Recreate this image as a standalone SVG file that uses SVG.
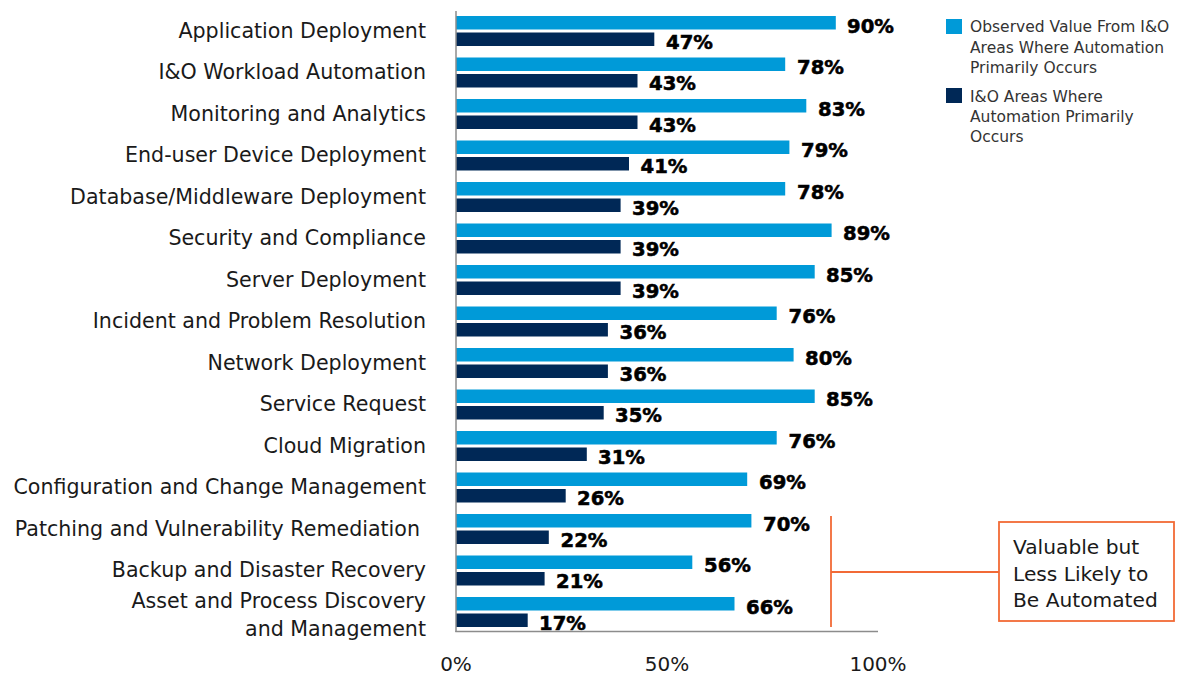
<svg xmlns="http://www.w3.org/2000/svg" width="1183" height="677" viewBox="0 0 1183 677">
<style>
.cat{font-family:"DejaVu Sans",sans-serif;font-size:20.6px;fill:#1a1a1a;text-anchor:end}
.val{font-family:"DejaVu Sans",sans-serif;font-weight:bold;font-size:19.6px;fill:#000;stroke:#000;stroke-width:0.55}
.lt{fill:#009ad8}
.dk{fill:#002856}
.leg{font-family:"DejaVu Sans",sans-serif;font-size:15.5px;fill:#333}
.ax{font-family:"DejaVu Sans",sans-serif;font-size:20px;fill:#1a1a1a;text-anchor:middle}
.ann{font-family:"DejaVu Sans",sans-serif;font-size:20.2px;fill:#1a1a1a}
.axis{stroke:#8c8c8c;stroke-width:1.5;fill:none}
.or{stroke:#f26a36;stroke-width:1.8;fill:none}
</style>
<rect width="1183" height="677" fill="#fff"/>
<g id="rows">
<g id="r1"><text class="cat" x="426" y="37.5">Application Deployment</text><rect class="lt" x="456" y="16" width="379.8" height="13.5"/><rect class="dk" x="456" y="32.5" width="198.3" height="13.5"/><text class="val" x="847" y="32.5">90%</text><text class="val" x="666" y="48.5">47%</text></g>
<g id="r2"><text class="cat" x="426" y="79">I&amp;O Workload Automation</text><rect class="lt" x="456" y="57.5" width="329.2" height="13.5"/><rect class="dk" x="456" y="74" width="181.5" height="13.5"/><text class="val" x="797" y="74">78%</text><text class="val" x="649" y="90">43%</text></g>
<g id="r3"><text class="cat" x="426" y="120.5">Monitoring and Analytics</text><rect class="lt" x="456" y="99" width="350.3" height="13.5"/><rect class="dk" x="456" y="115.5" width="181.5" height="13.5"/><text class="val" x="818" y="115.5">83%</text><text class="val" x="649" y="131.5">43%</text></g>
<g id="r4"><text class="cat" x="426" y="162">End-user Device Deployment</text><rect class="lt" x="456" y="140.5" width="333.4" height="13.5"/><rect class="dk" x="456" y="157" width="173" height="13.5"/><text class="val" x="801" y="157">79%</text><text class="val" x="640.5" y="173">41%</text></g>
<g id="r5"><text class="cat" x="426" y="203.5">Database/Middleware Deployment</text><rect class="lt" x="456" y="182" width="329.2" height="13.5"/><rect class="dk" x="456" y="198.5" width="164.6" height="13.5"/><text class="val" x="797" y="198.5">78%</text><text class="val" x="632" y="214.5">39%</text></g>
<g id="r6"><text class="cat" x="426" y="245">Security and Compliance</text><rect class="lt" x="456" y="223.5" width="375.6" height="13.5"/><rect class="dk" x="456" y="240" width="164.6" height="13.5"/><text class="val" x="843" y="240">89%</text><text class="val" x="632" y="256">39%</text></g>
<g id="r7"><text class="cat" x="426" y="286.5">Server Deployment</text><rect class="lt" x="456" y="265" width="358.7" height="13.5"/><rect class="dk" x="456" y="281.5" width="164.6" height="13.5"/><text class="val" x="826" y="281.5">85%</text><text class="val" x="632" y="297.5">39%</text></g>
<g id="r8"><text class="cat" x="426" y="328">Incident and Problem Resolution</text><rect class="lt" x="456" y="306.5" width="320.7" height="13.5"/><rect class="dk" x="456" y="323" width="151.9" height="13.5"/><text class="val" x="788.5" y="323">76%</text><text class="val" x="619.5" y="339">36%</text></g>
<g id="r9"><text class="cat" x="426" y="369.5">Network Deployment</text><rect class="lt" x="456" y="348" width="337.6" height="13.5"/><rect class="dk" x="456" y="364.5" width="151.9" height="13.5"/><text class="val" x="805" y="364.5">80%</text><text class="val" x="619.5" y="380.5">36%</text></g>
<g id="r10"><text class="cat" x="426" y="411">Service Request</text><rect class="lt" x="456" y="389.5" width="358.7" height="13.5"/><rect class="dk" x="456" y="406" width="147.7" height="13.5"/><text class="val" x="826" y="406">85%</text><text class="val" x="615" y="422">35%</text></g>
<g id="r11"><text class="cat" x="426" y="452.5">Cloud Migration</text><rect class="lt" x="456" y="431" width="320.7" height="13.5"/><rect class="dk" x="456" y="447.5" width="130.8" height="13.5"/><text class="val" x="788.5" y="447.5">76%</text><text class="val" x="598" y="463.5">31%</text></g>
<g id="r12"><text class="cat" x="426" y="494">Configuration and Change Management</text><rect class="lt" x="456" y="472.5" width="291.2" height="13.5"/><rect class="dk" x="456" y="489" width="109.7" height="13.5"/><text class="val" x="759" y="489">69%</text><text class="val" x="577" y="505">26%</text></g>
<g id="r13"><text class="cat" x="420" y="535.5">Patching and Vulnerability Remediation</text><rect class="lt" x="456" y="514" width="295.4" height="13.5"/><rect class="dk" x="456" y="530.5" width="92.8" height="13.5"/><text class="val" x="763" y="530.5">70%</text><text class="val" x="560.5" y="546.5">22%</text></g>
<g id="r14"><text class="cat" x="426" y="577">Backup and Disaster Recovery</text><rect class="lt" x="456" y="555.5" width="236.3" height="13.5"/><rect class="dk" x="456" y="572" width="88.6" height="13.5"/><text class="val" x="704" y="572">56%</text><text class="val" x="556" y="588">21%</text></g>
<g id="r15"><text class="cat" x="426" y="607.5">Asset and Process Discovery</text><text class="cat" x="426" y="636">and Management</text><rect class="lt" x="456" y="597" width="278.5" height="13.5"/><rect class="dk" x="456" y="613.5" width="71.7" height="13.5"/><text class="val" x="746" y="613.5">66%</text><text class="val" x="539" y="629.5">17%</text></g>
</g>
<g id="axes">
<line class="axis" x1="456" y1="11" x2="456" y2="632"/>
<line class="axis" x1="455.3" y1="631.5" x2="878" y2="631.5"/>
<text class="ax" x="456" y="671">0%</text>
<text class="ax" x="667" y="671">50%</text>
<text class="ax" x="878" y="671">100%</text>
</g>
<g id="legend">
<rect class="lt" x="946" y="19" width="16" height="15"/>
<text class="leg" x="970" y="32">Observed Value From I&amp;O</text>
<text class="leg" x="970" y="52.5">Areas Where Automation</text>
<text class="leg" x="970" y="73">Primarily Occurs</text>
<rect class="dk" x="946" y="88" width="16" height="15"/>
<text class="leg" x="970" y="101.5">I&amp;O Areas Where</text>
<text class="leg" x="970" y="122">Automation Primarily</text>
<text class="leg" x="970" y="142">Occurs</text>
</g>
<g id="connectors">
<line class="or" x1="831" y1="516" x2="831" y2="627"/>
<line class="or" x1="831" y1="572" x2="999" y2="572"/>
</g>
<g id="annotation">
<rect class="or" x="999" y="522" width="175" height="99" stroke-width="2"/>
<text class="ann" x="1013" y="554">Valuable but</text>
<text class="ann" x="1013" y="581">Less Likely to</text>
<text class="ann" x="1013" y="607">Be Automated</text>
</g>
</svg>
